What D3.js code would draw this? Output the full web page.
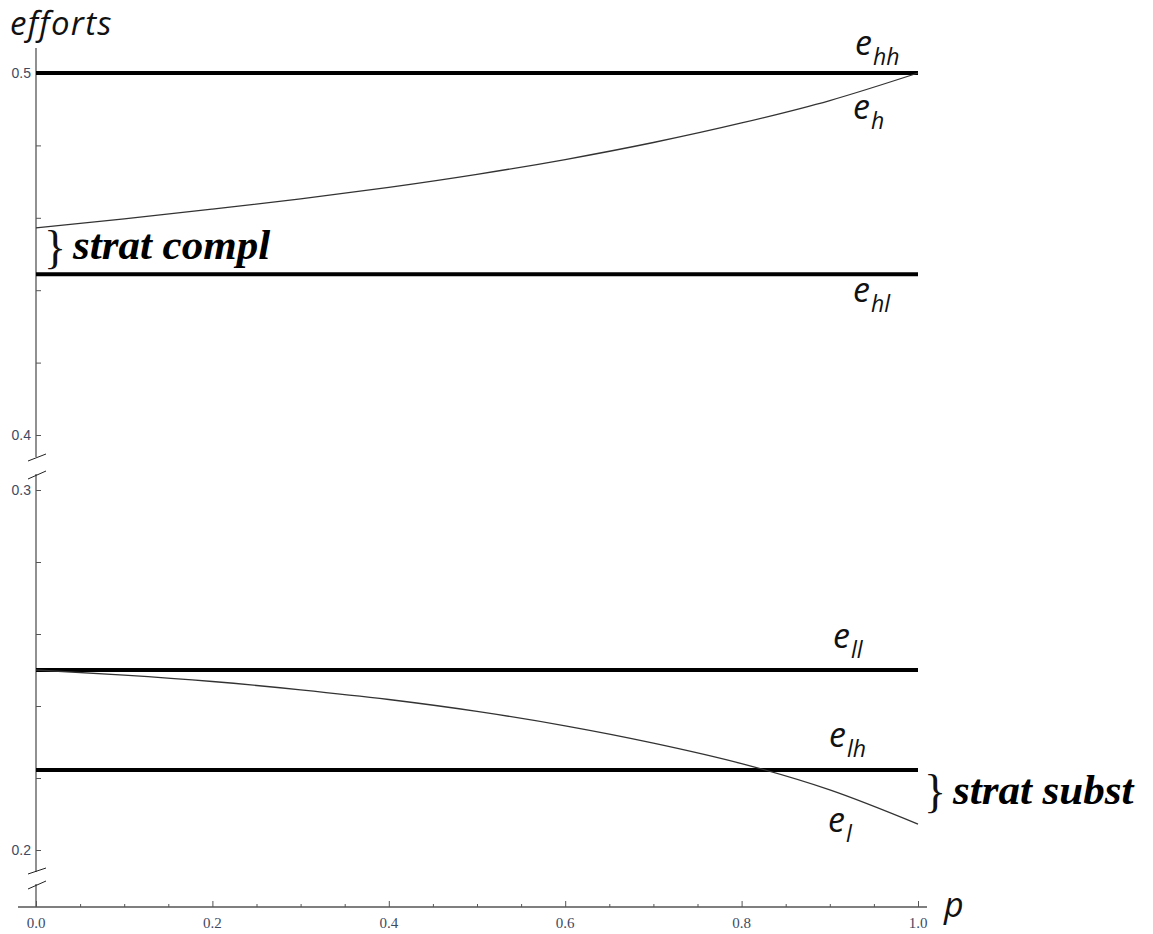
<!DOCTYPE html>
<html>
<head>
<meta charset="utf-8">
<script src="https://cdn.jsdelivr.net/npm/d3@7"></script>
<style>
  html, body { margin: 0; padding: 0; background: #ffffff; }
  svg { display: block; }
</style>
</head>
<body>
<svg id="chart" width="1153" height="934"></svg>
<script>
// ---------------- data ----------------
const pValues   = [0, 0.1, 0.2, 0.3, 0.4, 0.5, 0.6, 0.7, 0.8, 0.9, 1.0];
const ehValues  = [0.4572, 0.4597, 0.4624, 0.4652, 0.4684, 0.4720, 0.4761, 0.4808, 0.4862, 0.4924, 0.5000];
const elValues  = [0.2500, 0.2486, 0.2468, 0.2445, 0.2418, 0.2385, 0.2345, 0.2297, 0.2240, 0.2167, 0.2072];

const levelNames  = ["hh", "hl", "ll", "lh"];
const levelValues = [0.5, 0.4444, 0.25, 0.2222];

const curveNames = ["h", "l"];

const yUpperDomain = [0.4, 0.5];
const yLowerDomain = [0.2, 0.3];
const yUpperLabels = [0.4, 0.5];
const yLowerLabels = [0.2, 0.3];
const yUpperMinor  = [0.42, 0.44, 0.46, 0.48];
const yLowerMinor  = [0.22, 0.24, 0.26, 0.28];

const xMajorTicks = [0, 0.2, 0.4, 0.6, 0.8, 1.0];
const xMinorTicks = [0.05, 0.1, 0.15, 0.25, 0.3, 0.35, 0.45, 0.5, 0.55, 0.65, 0.7, 0.75, 0.85, 0.9, 0.95];

const yAxisTitle = "efforts";
const xAxisTitle = "p";
const annoCompl = "strat compl";
const annoSubst = "strat subst";

// ---------------- scales ----------------
const svg = d3.select("#chart");
const x = d3.scaleLinear().domain([0, 1]).range([36, 918]);
const yUp = d3.scaleLinear().domain(yUpperDomain).range([435, 73]);
const yLo = d3.scaleLinear().domain(yLowerDomain).range([850, 490]);
const y = v => (v >= 0.35 ? yUp(v) : yLo(v));
const axisY = 907;
const x0 = x(0);

const tickColor = "#3e4a62";
const axisColor = "#555";

// ---------------- y axis (broken) ----------------
const gAxis = svg.append("g");
const ySegments = [[48, 457], [474, 872], [884, axisY]];
ySegments.forEach(s => {
  gAxis.append("line").attr("x1", x0).attr("x2", x0).attr("y1", s[0]).attr("y2", s[1])
    .attr("stroke", axisColor).attr("stroke-width", 1.3);
});
const breaks = [[461, 454], [479, 471], [874, 868], [889, 881]];
breaks.forEach(b => {
  gAxis.append("line").attr("x1", x0 - 8).attr("x2", x0 + 10).attr("y1", b[0]).attr("y2", b[1])
    .attr("stroke", "#222").attr("stroke-width", 1);
});

const yUpAxis = d3.axisRight(yUp).tickValues(yUpperLabels.concat(yUpperMinor))
  .tickSize(5).tickFormat("");
const yLoAxis = d3.axisRight(yLo).tickValues(yLowerLabels.concat(yLowerMinor))
  .tickSize(5).tickFormat("");
[yUpAxis, yLoAxis].forEach(ax => {
  const g = svg.append("g").attr("transform", `translate(${x0},0)`).call(ax);
  g.select(".domain").remove();
  g.selectAll(".tick line").attr("stroke", axisColor).attr("stroke-width", 1);
});
yUpperLabels.concat(yLowerLabels).forEach(v => {
  svg.append("text").attr("x", x0 - 5).attr("y", y(v) + 5)
    .attr("text-anchor", "end")
    .attr("font-family", "'Liberation Sans', sans-serif").attr("font-size", 14)
    .attr("fill", tickColor).text(d3.format(".1f")(v));
});

// ---------------- x axis ----------------
svg.append("line").attr("x1", 18).attr("x2", 927).attr("y1", axisY).attr("y2", axisY)
  .attr("stroke", axisColor).attr("stroke-width", 1.3);
const xMajAxis = d3.axisTop(x).tickValues(xMajorTicks).tickSize(6).tickFormat("");
const xMinAxis = d3.axisTop(x).tickValues(xMinorTicks).tickSize(3).tickFormat("");
[xMajAxis, xMinAxis].forEach(ax => {
  const g = svg.append("g").attr("transform", `translate(0,${axisY})`).call(ax);
  g.select(".domain").remove();
  g.selectAll(".tick line").attr("stroke", axisColor).attr("stroke-width", 1);
});
xMajorTicks.forEach(v => {
  svg.append("text").attr("x", x(v)).attr("y", 928)
    .attr("text-anchor", "middle")
    .attr("font-family", "'Liberation Serif', serif").attr("font-size", 15)
    .attr("fill", tickColor).text(d3.format(".1f")(v));
});

// axis titles
svg.append("text").attr("x", 10).attr("y", 35)
  .attr("font-family", "'Open Sans', sans-serif").attr("font-style", "italic")
  .attr("font-size", 33).attr("letter-spacing", 1.3).attr("fill", "#111").text(yAxisTitle);
svg.append("text").attr("x", 944).attr("y", 917)
  .attr("font-family", "'Open Sans', sans-serif").attr("font-style", "italic")
  .attr("font-size", 34).attr("fill", "#111").text(xAxisTitle);

// ---------------- flat lines ----------------
levelValues.forEach(v => {
  svg.append("line").attr("x1", x(0)).attr("x2", x(1)).attr("y1", y(v)).attr("y2", y(v))
    .attr("stroke", "#000").attr("stroke-width", 4);
});

// ---------------- curves ----------------
const lineGen = d3.line().x((d, i) => x(pValues[i])).y(d => y(d)).curve(d3.curveMonotoneX);
[ehValues, elValues].forEach(vals => {
  svg.append("path").attr("d", lineGen(vals)).attr("fill", "none")
    .attr("stroke", "#333").attr("stroke-width", 1.3);
});

// ---------------- labels e_xx ----------------
function eLabel(px, py, sub) {
  const t = svg.append("text").attr("x", px).attr("y", py)
    .attr("font-family", "'Open Sans', sans-serif").attr("font-style", "italic")
    .attr("fill", "#111");
  t.append("tspan").attr("font-size", 34).text("e");
  t.append("tspan").attr("font-size", 23).attr("dy", 10).attr("dx", 1).text(sub);
}
const labelPos = {
  hh: [x(1) - 63, y(levelValues[0]) - 18],
  hl: [x(1) - 65, y(levelValues[1]) + 28],
  ll: [x(1) - 85, y(levelValues[2]) - 22],
  lh: [x(1) - 89, y(levelValues[3]) - 23],
};
levelNames.forEach(n => eLabel(labelPos[n][0], labelPos[n][1], n));
eLabel(x(1) - 65, y(ehValues[ehValues.length - 1]) + 46, curveNames[0]);
eLabel(x(1) - 90, y(elValues[elValues.length - 1]) + 8, curveNames[1]);

// ---------------- annotations ----------------
function brace(px, py) {
  svg.append("text").attr("x", px).attr("y", py)
    .attr("font-family", "'Liberation Serif', serif").attr("font-size", 46)
    .attr("fill", "#111").text("}");
}
function anno(px, py, txt) {
  svg.append("text").attr("x", px).attr("y", py)
    .attr("font-family", "'Liberation Serif', serif").attr("font-style", "italic")
    .attr("font-weight", "bold").attr("font-size", 43).attr("fill", "#000").text(txt);
}
brace(x0 + 8, y(levelValues[1]) - 11);
anno(x0 + 37, y(levelValues[1]) - 15, annoCompl);
brace(x(1) + 6, y(levelValues[3]) + 37);
anno(x(1) + 35, y(levelValues[3]) + 34, annoSubst);
</script>
</body>
</html>
